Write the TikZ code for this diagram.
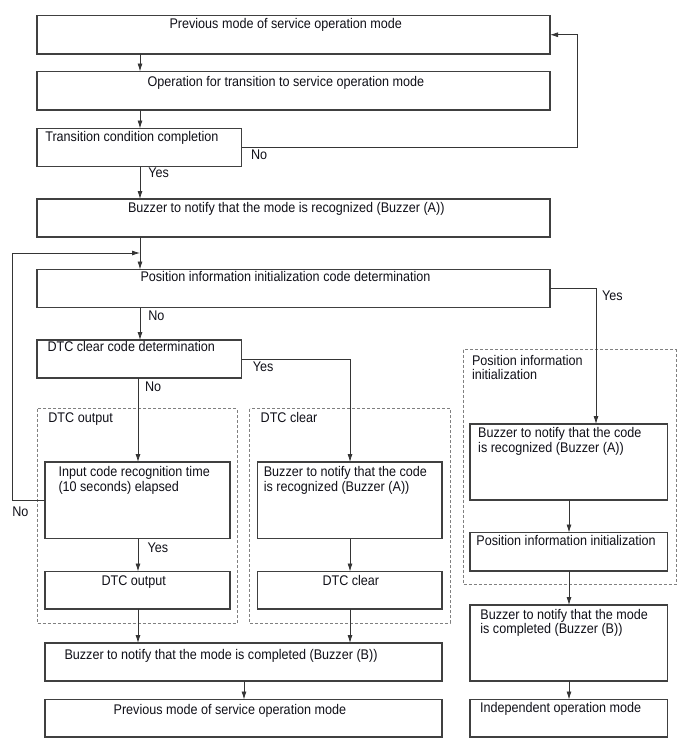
\documentclass[tikz,border=0pt]{standalone}
\usepackage{fontspec}
\setmainfont{Liberation Sans}[FakeStretch=0.9]
\usetikzlibrary{arrows.meta}
\definecolor{boxline}{HTML}{404040}
\definecolor{conline}{HTML}{353535}
\definecolor{grpline}{HTML}{808080}
\definecolor{txtcol}{HTML}{101018}
\newcommand{\twolines}[2]{\begin{tabular}[t]{@{}l@{}}#1\\#2\end{tabular}}
\begin{document}
\begin{tikzpicture}[x=1pt,y=-1pt,
  font=\fontsize{14}{14}\selectfont,
  boxshape/.style={draw=boxline,line width=1.4pt,fill=white},
  grpshape/.style={draw=grpline,line width=0.9pt,dash pattern=on 3pt off 2pt},
  txt/.style={inner sep=0pt,outer sep=0pt,anchor=base west,text=txtcol},
  con/.style={draw=conline,line width=0.8pt},
  arr/.style={con,-{Latex[length=8pt,width=5pt]}}]
\useasboundingbox (0,0) rectangle (688,755);
\renewcommand{\arraystretch}{1}
% dashed groups
\draw[grpshape] (37,408.5) rectangle (237,623);
\draw[grpshape] (249.5,408.5) rectangle (450,623);
\draw[grpshape] (463,349.5) rectangle (676,584);
% boxes
\newcommand{\mkbox}[5]{\path[boxshape] (#2,#3) rectangle (#4,#5);
  \node[inner sep=0pt,outer sep=0pt,minimum width=#4pt-#2pt,minimum height=#5pt-#3pt,anchor=north west] (#1) at (#2,#3) {};}
\mkbox{b1}{37}{15.5}{550}{54}
\mkbox{b2}{37}{71.5}{550}{110}
\mkbox{b3}{37}{128.5}{241.5}{166.5}
\mkbox{b4}{37}{199}{550}{237}
\mkbox{b5}{37}{269.5}{550}{307.5}
\mkbox{b6}{37}{340}{241.5}{378}
\mkbox{bin}{45}{462}{230}{538.5}
\mkbox{bdo}{45}{571.5}{230}{609}
\mkbox{bza}{257.5}{462}{442}{538.5}
\mkbox{bdc}{257.5}{571.5}{442}{609}
\mkbox{bbb}{45}{643}{442}{681}
\mkbox{bpv}{45}{699.5}{442}{737}
\mkbox{ra}{470}{424}{667.5}{500}
\mkbox{rpi}{470}{532.5}{667.5}{571}
\mkbox{rb}{470}{605}{667.5}{681}
\mkbox{rin}{470}{699.5}{667.5}{737}
% texts
\node[txt] (t1) at (169.5,28) {Previous mode of service operation mode};
\node[txt] (t2) at (147.5,86) {Operation for transition to service operation mode};
\node[txt] (t3) at (45.3,141.3) {Transition condition completion};
\node[txt] (t4) at (128,212) {Buzzer to notify that the mode is recognized (Buzzer (A))};
\node[txt] (t5) at (140.5,281.7) {Position information initialization code determination};
\node[txt] (t6) at (47.5,351.7) {DTC clear code determination};
\node[txt] (gpl) at (472,365) {\twolines{Position information}{initialization}};
\node[txt] (gol) at (48.4,422.7) {DTC output};
\node[txt] (gcl) at (260.7,422.7) {DTC clear};
\node[txt] (tin) at (58.5,476.7) {\twolines{Input code recognition time}{(10 seconds) elapsed}};
\node[txt] (tza) at (263.8,476.7) {\twolines{Buzzer to notify that the code}{is recognized (Buzzer (A))}};
\node[txt] (tdo) at (101.5,585.7) {DTC output};
\node[txt] (tdc) at (322.5,585.7) {DTC clear};
\node[txt] (tbb) at (64.5,659.3) {Buzzer to notify that the mode is completed (Buzzer (B))};
\node[txt] (tpv) at (113.6,714.3) {Previous mode of service operation mode};
\node[txt] (tra) at (478.2,437.7) {\twolines{Buzzer to notify that the code}{is recognized (Buzzer (A))}};
\node[txt] (tpi) at (476.4,545) {Position information initialization};
\node[txt] (trb) at (480.4,619.3) {\twolines{Buzzer to notify that the mode}{is completed (Buzzer (B))}};
\node[txt] (tri) at (480,712.3) {Independent operation mode};
% labels
\node[txt] (l1) at (148.4,177.7) {Yes};
\node[txt] (l2) at (251,159.3) {No};
\node[txt] (l3) at (602,300) {Yes};
\node[txt] (l4) at (148.4,320.7) {No};
\node[txt] (l5) at (252.8,371.7) {Yes};
\node[txt] (l6) at (145,391.7) {No};
\node[txt] (l7) at (147.5,552.7) {Yes};
\node[txt] (l8) at (12.4,516.7) {No};
% connector columns
\coordinate (cA) at (140,0);
\coordinate (cB) at (138,0);
\coordinate (cC) at (350,0);
\coordinate (cD) at (244,0);
\coordinate (cE) at (569,0);
\coordinate (cR) at (577,0);
\coordinate (cY) at (596,0);
\coordinate (cL) at (12.4,0);
\coordinate (cM) at (140,253);
% connectors
\draw[arr] (b1.south -| cA) -- (b2.north -| cA);
\draw[arr] (b2.south -| cA) -- (b3.north -| cA);
\draw[arr] (b3.south -| cA) -- (b4.north -| cA);
\draw[arr] (b3.east) -- (b3.east -| cR) -- (b1.east -| cR) -- (b1.east);
\draw[con] (b4.south -| cA) -- (cM);
\draw[arr] (cM) -- (b5.north -| cA);
\draw[arr] (bin.west) -- (bin.west -| cL) -- (cM -| cL) -- (cM);
\draw[arr] (b5.south -| cA) -- (b6.north -| cA);
\draw[arr] (b5.east) -- (b5.east -| cY) -- (ra.north -| cY);
\draw[arr] (b6.south -| cB) -- (bin.north -| cB);
\draw[arr] (b6.east) -- (b6.east -| cC) -- (bza.north -| cC);
\draw[arr] (bin.south -| cB) -- (bdo.north -| cB);
\draw[arr] (bza.south -| cC) -- (bdc.north -| cC);
\draw[arr] (bdo.south -| cB) -- (bbb.north -| cB);
\draw[arr] (bdc.south -| cC) -- (bbb.north -| cC);
\draw[arr] (bbb.south -| cD) -- (bpv.north -| cD);
\draw[arr] (ra.south -| cE) -- (rpi.north -| cE);
\draw[arr] (rpi.south -| cE) -- (rb.north -| cE);
\draw[arr] (rb.south -| cE) -- (rin.north -| cE);
\end{tikzpicture}
\end{document}
